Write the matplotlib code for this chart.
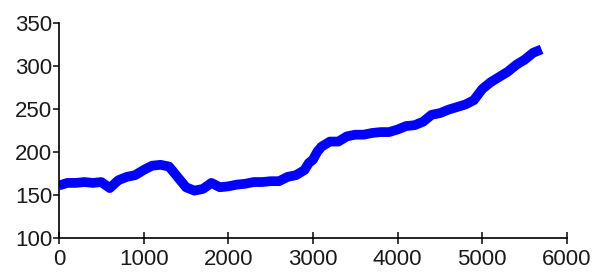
import matplotlib
matplotlib.use('Agg')
import matplotlib.pyplot as plt

# values
x_values = [0, 100, 200, 300, 400, 500, 600, 700, 800, 900, 1000, 1100, 1200,
            1300, 1400, 1500, 1600, 1700, 1800, 1900, 2000, 2100, 2200, 2300,
            2400, 2500, 2600, 2700, 2800, 2900, 2950, 3000, 3050, 3100, 3200,
            3300, 3400, 3500, 3600, 3700, 3800, 3900, 4000, 4100, 4200, 4300,
            4400, 4500, 4600, 4700, 4800, 4900, 5000, 5100, 5200, 5300, 5400,
            5500, 5600, 5700]
y_values = [161, 164, 164, 165, 164, 165, 158, 167, 171, 173, 179, 184, 185,
            183, 171, 159, 155, 157, 164, 159, 160, 162, 163, 165,
            165, 166, 166, 171, 173, 179, 187, 191, 200, 206, 212,
            212, 218, 220, 220, 222, 223, 223, 226, 230, 231, 235,
            243, 245, 249, 252, 255, 260, 273, 281, 287, 293, 301,
            307, 315, 319]

x_ticks = [0, 1000, 2000, 3000, 4000, 5000, 6000]
y_ticks = [100, 150, 200, 250, 300, 350]

plt.rcParams['font.family'] = ['Liberation Sans', 'DejaVu Sans']

fig = plt.figure(figsize=(6.13, 2.73), dpi=100)
ax = fig.add_axes([0.0962, 0.128, 0.8287, 0.789])
ax.plot(x_values, y_values, color='#0000ff', linewidth=7, solid_capstyle='butt')

ax.set_xlim(0, 6000)
ax.set_ylim(100, 350)
ax.set_xticks(x_ticks)
ax.set_yticks(y_ticks)
ax.spines['top'].set_visible(False)
ax.spines['right'].set_visible(False)
for s in ['left', 'bottom']:
    ax.spines[s].set_linewidth(1.2)
ax.tick_params(axis='x', direction='inout', length=8, width=1.2, pad=4,
               labelsize=16, colors='#1a1a1a')
ax.tick_params(axis='y', direction='out', length=4.5, width=1.2, pad=0.5,
               labelsize=16, colors='#1a1a1a')

fig.savefig('out.png', dpi=100)
